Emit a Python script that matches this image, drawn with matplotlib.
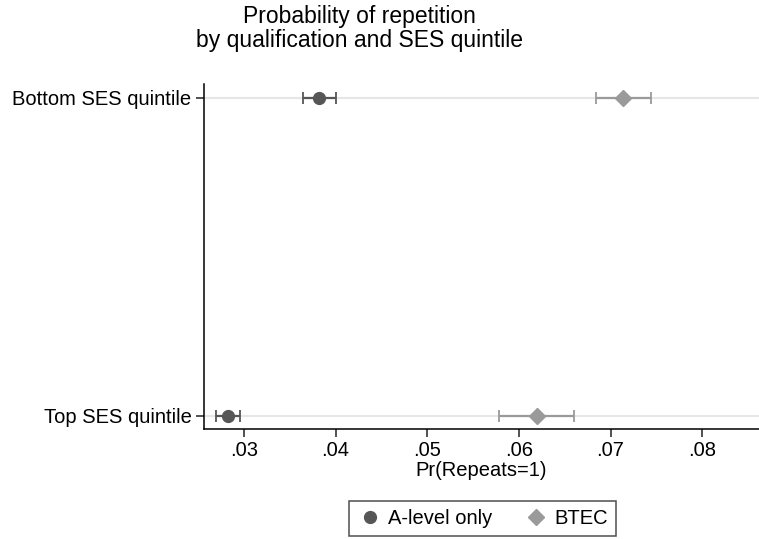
import numpy as np
import matplotlib.pyplot as plt

plt.rcParams['font.family'] = ['Liberation Sans', 'DejaVu Sans']

groups = ["Top SES quintile", "Bottom SES quintile"]
alevel_est = [0.0283, 0.0382]
alevel_lo = [0.0270, 0.0364]
alevel_hi = [0.0296, 0.0400]
btec_est = [0.0620, 0.0714]
btec_lo = [0.0578, 0.0684]
btec_hi = [0.0660, 0.0744]
xticks = [0.03, 0.04, 0.05, 0.06, 0.07, 0.08]
xticklabels = [".03", ".04", ".05", ".06", ".07", ".08"]

DARK = "#565656"
LIGHT = "#9a9a9a"

fig = plt.figure(figsize=(7.59, 5.39), dpi=100)
ax = fig.add_axes([204 / 759, 110 / 539, 1 - 204 / 759, 345 / 539])

ypos = np.arange(len(groups))
for y in ypos:
    ax.axhline(y, color="#e6e6e6", lw=1.5, zorder=0)

def draw(est, lo, hi, color, marker, ms, label):
    est = np.array(est)
    err = [est - np.array(lo), np.array(hi) - est]
    ax.errorbar(est, ypos, xerr=err, fmt="none", ecolor=color, elinewidth=1.6,
                capsize=4.5, capthick=1.3, zorder=2)
    ax.plot(est, ypos, linestyle="none", marker=marker, color=color, ms=ms,
            label=label, zorder=3)

draw(alevel_est, alevel_lo, alevel_hi, DARK, "o", 8.5, "A-level only")
draw(btec_est, btec_lo, btec_hi, LIGHT, "D", 8, "BTEC")

ax.set_ylim(-0.041, 1.044)
ax.set_xlim(0.02565, 0.0862)
ax.set_yticks(ypos)
ax.set_yticklabels(groups, fontsize=14.5)
ax.set_xticks(xticks)
ax.set_xticklabels(xticklabels, fontsize=14.5)
ax.tick_params(axis="both", length=6, width=1.1, color="#222222", pad=3)
ax.spines["top"].set_visible(False)
ax.spines["right"].set_visible(False)
ax.spines["left"].set_linewidth(1.1)
ax.spines["bottom"].set_linewidth(1.1)
ax.set_xlabel("Pr(Repeats=1)", fontsize=14.5, labelpad=0)

fig.suptitle("Probability of repetition\nby qualification and SES quintile",
             fontsize=16.5, x=0.473, y=0.99, linespacing=1.05)

leg = fig.legend(loc="center", bbox_to_anchor=(0.636, 0.038), ncol=2, fontsize=14.5,
                 frameon=True, fancybox=False, edgecolor="#222222",
                 handletextpad=0.3, columnspacing=1.6, borderpad=0.4,
                 handlelength=1.2)
leg.get_frame().set_linewidth(1.1)

fig.savefig("out.png", dpi=100)
